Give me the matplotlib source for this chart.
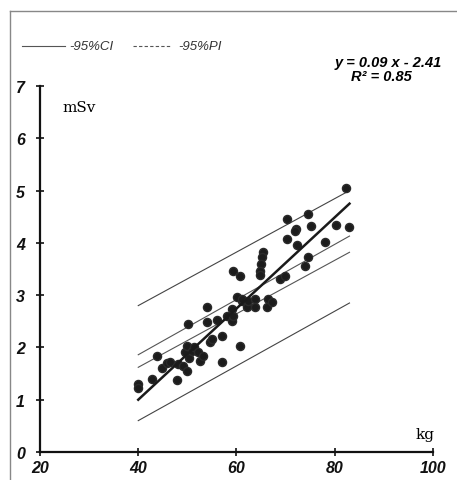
import matplotlib
matplotlib.use('Agg')
import matplotlib.pyplot as plt
from matplotlib.lines import Line2D

plt.rcParams['font.family'] = ['Liberation Sans', 'DejaVu Sans']

# body weight (kg) and effective dose (mSv)
kg = [40.0, 40.0, 42.9, 43.9, 44.8, 45.8, 46.5, 47.9, 48.1, 49.1,
      49.6, 49.9, 50.0, 50.1, 50.4, 51.0, 51.4, 52.2, 52.6, 53.2,
      54.0, 54.0, 54.6, 55.0, 56.0, 57.1, 57.1, 58.1, 59.1, 59.1,
      59.3, 60.1, 60.7, 61.1, 61.1, 62.2, 62.4, 63.8, 63.8, 66.2,
      66.4, 67.2, 59.3, 60.7, 65.3, 65.2, 65.0, 64.8, 64.8, 68.9,
      69.9, 70.3, 70.3, 72.3, 72.1, 74.6, 75.2, 74.6, 74.0, 78.0,
      80.3, 82.3, 82.9, 71.9]
msv = [1.30, 1.22, 1.40, 1.84, 1.60, 1.70, 1.73, 1.37, 1.68, 1.65,
       1.92, 1.55, 2.03, 2.45, 1.80, 1.93, 2.00, 1.92, 1.75, 1.84,
       2.78, 2.48, 2.10, 2.16, 2.52, 1.72, 2.22, 2.60, 2.73, 2.50,
       2.60, 2.96, 2.03, 2.88, 2.92, 2.77, 2.89, 2.92, 2.77, 2.77,
       2.92, 2.87, 3.46, 3.36, 3.82, 3.73, 3.60, 3.46, 3.38, 3.31,
       3.37, 4.45, 4.07, 3.96, 4.26, 4.55, 4.32, 3.73, 3.56, 4.02,
       4.34, 5.05, 4.30, 4.22]

# fitted line and interval lines (end points)
line_x = [40, 83]
fit_y = [1.00, 4.75]
ci_upper = [1.86, 4.13]
ci_lower = [1.62, 3.82]
pi_upper = [2.80, 5.00]
pi_lower = [0.60, 2.85]

fig = plt.figure(figsize=(4.57, 4.81), dpi=100)
ax = fig.add_axes([0.0875, 0.0582, 0.86, 0.7609])

ax.plot(line_x, pi_upper, color='#444444', lw=0.8)
ax.plot(line_x, pi_lower, color='#444444', lw=0.8)
ax.plot(line_x, ci_upper, color='#555555', lw=0.8)
ax.plot(line_x, ci_lower, color='#555555', lw=0.8)
ax.scatter(kg, msv, s=34, color='#1c1c1c', edgecolors='#2a2a2a', zorder=3)
ax.plot(line_x, fit_y, color='#1a1a1a', lw=1.8, zorder=4)

ax.set_xlim(20, 100)
ax.set_ylim(0, 7)
ax.set_xticks([20, 40, 60, 80, 100])
ax.set_yticks(range(8))
for s in ['top', 'right']:
    ax.spines[s].set_visible(False)
for s in ['left', 'bottom']:
    ax.spines[s].set_linewidth(1.6)
    ax.spines[s].set_color('#111111')
ax.tick_params(axis='both', direction='inout', length=6, width=1.2,
               labelsize=11.5, colors='#111111', pad=3)
ax.tick_params(axis='y', pad=8)
for lab in ax.get_xticklabels() + ax.get_yticklabels():
    lab.set_fontweight('bold')
    lab.set_fontstyle('italic')

ax.text(24.5, 6.6, 'mSv', family='DejaVu Serif', fontsize=11, ha='left', va='center')
ax.text(96.5, 0.35, 'kg', family='DejaVu Serif', fontsize=11, ha='left', va='center')

# equation
fig.text(0.85, 0.870, 'y = 0.09 x - 2.41', fontsize=10.5, fontweight='bold',
         fontstyle='italic', ha='center', va='center')
fig.text(0.835, 0.840, 'R² = 0.85', fontsize=10.5, fontweight='bold',
         fontstyle='italic', ha='center', va='center')

# legend
fig.add_artist(Line2D([0.048, 0.142], [0.902, 0.902], color='#555555', lw=0.8))
fig.text(0.152, 0.902, '-95%CI', fontsize=9.5, fontstyle='italic', color='#333333', va='center')
fig.add_artist(Line2D([0.290, 0.375], [0.902, 0.902], color='#555555', lw=0.8, ls=(0, (3, 2))))
fig.text(0.390, 0.902, '-95%PI', fontsize=9.5, fontstyle='italic', color='#333333', va='center')

# scan frame
fig.add_artist(Line2D([0.022, 1.0], [0.975, 0.975], color='#888888', lw=1.0))
fig.add_artist(Line2D([0.022, 0.022], [0.0, 0.975], color='#888888', lw=1.0))

fig.savefig('out.png', dpi=100)
